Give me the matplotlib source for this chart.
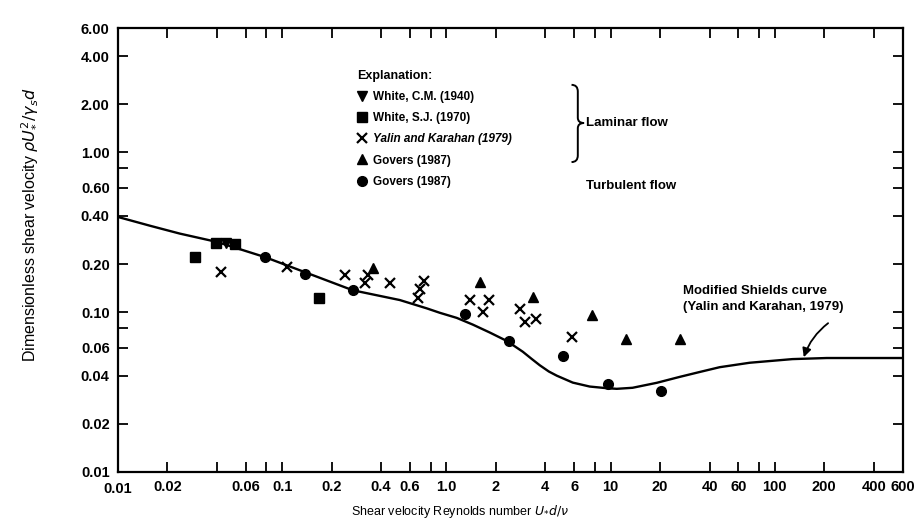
import matplotlib
matplotlib.use("Agg")
import matplotlib.pyplot as plt
from matplotlib.path import Path
from matplotlib.patches import PathPatch
from matplotlib.ticker import FixedLocator, FixedFormatter, NullLocator

# Modified Shields curve (Yalin and Karahan, 1979)
curve_re = [0.01, 0.0157, 0.0238, 0.040, 0.0785, 0.1475, 0.269, 0.52, 0.76,
            0.912, 1.156, 1.448, 1.837, 2.331, 2.917, 3.30, 3.70, 4.20, 4.70,
            5.88, 7.46, 9.47, 10.9, 13.6, 19.1, 26.3, 34.9, 46.1, 70.3, 128,
            207, 328, 600]
curve_tau = [0.394, 0.347, 0.31, 0.275, 0.221, 0.173, 0.137, 0.119, 0.1055,
             0.099, 0.092, 0.0835, 0.0745, 0.066, 0.0565, 0.051, 0.0465, 0.0425,
             0.040, 0.0362, 0.0342, 0.0334, 0.0331, 0.0336, 0.0361, 0.0393,
             0.0422, 0.0452, 0.0482, 0.0508, 0.0516, 0.0516, 0.0516]

# data points
white_cm_re = [0.0454]
white_cm_tau = [0.271]

white_sj_re = [0.0294, 0.0395, 0.0515, 0.167]
white_sj_tau = [0.2215, 0.271, 0.267, 0.1227]

yalin_re = [0.0424, 0.1068, 0.2408, 0.332, 0.318, 0.452, 0.729, 0.689, 0.670,
            1.388, 1.811, 1.665, 2.80, 3.00, 3.50, 5.80]
yalin_tau = [0.1785, 0.192, 0.171, 0.171, 0.152, 0.152, 0.1567, 0.1396, 0.1227,
             0.1192, 0.1192, 0.1003, 0.1047, 0.0868, 0.0907, 0.070]

govers_lam_re = [0.356, 1.597, 3.36, 7.67, 12.36, 26.3]
govers_lam_tau = [0.189, 0.1545, 0.1245, 0.096, 0.068, 0.068]

govers_turb_re = [0.0785, 0.1374, 0.269, 1.294, 2.40, 5.11, 9.60, 20.2]
govers_turb_tau = [0.2215, 0.1734, 0.1377, 0.0974, 0.066, 0.0532, 0.0356, 0.0321]

x_ticks = [0.02, 0.04, 0.06, 0.08, 0.1, 0.2, 0.4, 0.6, 0.8, 1.0, 2, 4, 6, 8, 10,
           20, 40, 60, 80, 100, 200, 400, 600]
x_labels = ["0.02", "", "0.06", "", "0.1", "0.2", "0.4", "0.6", "", "1.0", "2",
            "4", "6", "", "10", "20", "40", "60", "", "100", "200", "400", "600"]
y_ticks = [0.01, 0.02, 0.04, 0.06, 0.08, 0.1, 0.2, 0.4, 0.6, 0.8, 1.0, 2.0, 4.0, 6.0]
y_labels = ["0.01", "0.02", "0.04", "0.06", "", "0.10", "0.20", "0.40", "0.60", "",
            "1.00", "2.00", "4.00", "6.00"]

plt.rcParams['font.family'] = ['Liberation Sans', 'DejaVu Sans']

fig = plt.figure(figsize=(9.22, 5.29), dpi=100)
ax = fig.add_axes([0.128, 0.108, 0.851, 0.839])

ax.plot(curve_re, curve_tau, color='black', lw=1.7, zorder=2)

ms = 7
h_cm, = ax.plot(white_cm_re, white_cm_tau, 'v', color='black', ms=ms, ls='none')
h_sj, = ax.plot(white_sj_re, white_sj_tau, 's', color='black', ms=ms, ls='none')
h_yk, = ax.plot(yalin_re, yalin_tau, 'x', color='black', ms=6.5, mew=1.6, ls='none')
h_gl, = ax.plot(govers_lam_re, govers_lam_tau, '^', color='black', ms=ms, ls='none')
h_gt, = ax.plot(govers_turb_re, govers_turb_tau, 'o', color='black', ms=ms, ls='none')

ax.set_xscale('log')
ax.set_yscale('log')
ax.set_xlim(0.01, 600)
ax.set_ylim(0.01, 6.0)

ax.xaxis.set_major_locator(FixedLocator(x_ticks))
ax.xaxis.set_major_formatter(FixedFormatter(x_labels))
ax.xaxis.set_minor_locator(NullLocator())
ax.yaxis.set_major_locator(FixedLocator(y_ticks))
ax.yaxis.set_major_formatter(FixedFormatter(y_labels))
ax.yaxis.set_minor_locator(NullLocator())

ax.tick_params(which='major', direction='in', length=7, width=1.3,
               top=True, right=True, labelsize=10.5, pad=6)
for lab in ax.get_xticklabels() + ax.get_yticklabels():
    lab.set_fontweight('bold')
for sp in ax.spines.values():
    sp.set_linewidth(1.6)

# corner label 0.01 on x
ax.text(0.01, -0.022, "0.01", transform=ax.get_xaxis_transform(), ha='center',
        va='top', fontsize=10.5, fontweight='bold')

ax.set_xlabel(r"Shear velocity Reynolds number $U_{*}d/\nu$", fontsize=9)
ax.xaxis.set_label_coords(0.436, -0.07)
ax.set_ylabel(r"Dimensionless shear velocity $\rho U_{*}^{2}/\gamma_s d$", fontsize=11.5)
ax.yaxis.set_label_coords(-0.1, 0.556)

leg = ax.legend([h_cm, h_sj, h_yk, h_gl, h_gt],
                ["White, C.M. (1940)", "White, S.J. (1970)",
                 "Yalin and Karahan (1979)", "Govers (1987)", "Govers (1987)"],
                loc='upper left', bbox_to_anchor=(0.305, 0.906), frameon=False,
                title="Explanation:", alignment='left', handlelength=0.8,
                handletextpad=0.5, labelspacing=0.78, borderpad=0,
                borderaxespad=0, prop={'size': 8.5, 'weight': 'bold'},
                title_fontproperties={'size': 9, 'weight': 'bold'})
leg._legend_handle_box.sep = 11
leg.get_texts()[2].set_style('italic')

# brace grouping the laminar flow entries
bx0, bx1, btip = 0.578, 0.586, 0.594
by0, by1, bmid = 0.872, 0.698, 0.786
verts = [(bx0, by0), (bx1, by0), (bx1, by0 - 0.015),
         (bx1, bmid + 0.012),
         (bx1, bmid), (btip, bmid),
         (bx1, bmid), (bx1, bmid - 0.012),
         (bx1, by1 + 0.015),
         (bx1, by1), (bx0, by1)]
codes = [Path.MOVETO, Path.CURVE3, Path.CURVE3,
         Path.LINETO,
         Path.CURVE3, Path.CURVE3,
         Path.CURVE3, Path.CURVE3,
         Path.LINETO,
         Path.CURVE3, Path.CURVE3]
ax.add_patch(PathPatch(Path(verts, codes), transform=ax.transAxes,
                       fc='none', ec='black', lw=1.4))

ax.text(0.597, 0.786, "Laminar flow", transform=ax.transAxes, ha='left',
        va='center', fontsize=9.5, fontweight='bold')
ax.text(0.597, 0.643, "Turbulent flow", transform=ax.transAxes, ha='left',
        va='center', fontsize=9.5, fontweight='bold')

ax.text(0.72, 0.39, "Modified Shields curve\n(Yalin and Karahan, 1979)",
        transform=ax.transAxes, ha='left', va='center', fontsize=9.5,
        fontweight='bold', linespacing=1.45)
ax.annotate("", xy=(150, 0.0522), xycoords='data',
            xytext=(0.905, 0.335), textcoords='axes fraction',
            arrowprops=dict(arrowstyle='-|>', color='black', lw=1.3,
                            mutation_scale=13,
                            connectionstyle='arc3,rad=0.15',
                            shrinkA=0, shrinkB=0))

fig.savefig("out.png", dpi=100)
